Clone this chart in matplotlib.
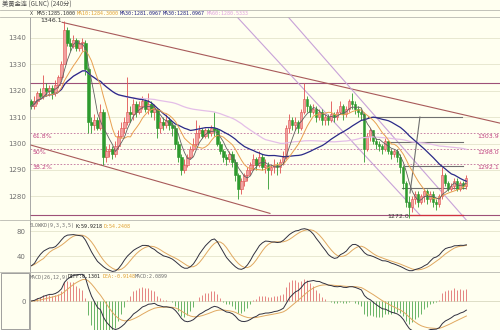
import numpy as np
import pandas as pd
import matplotlib
matplotlib.use('Agg')
import matplotlib.pyplot as plt
from matplotlib import font_manager

# ---------------- data (240-minute bars) ----------------
first_open = 1316
closes = [1314, 1316, 1319, 1318, 1321, 1320, 1321, 1319, 1322, 1325,
          1330, 1343, 1338, 1337, 1339, 1336, 1338, 1338, 1328, 1308,
          1307, 1309, 1306, 1312, 1295, 1297, 1298, 1296, 1299, 1303,
          1306, 1308, 1312, 1311, 1315, 1312, 1314, 1316, 1313, 1315,
          1312, 1313, 1306, 1308, 1307, 1309, 1307, 1306, 1300, 1295,
          1290, 1292, 1295, 1298, 1300, 1304, 1305, 1303, 1305, 1304,
          1306, 1305, 1300, 1297, 1295, 1294, 1296, 1293, 1288, 1283,
          1286, 1288, 1290, 1292, 1294, 1292, 1295, 1291, 1292, 1290,
          1291, 1292, 1291, 1293, 1295, 1306, 1309, 1307, 1308, 1306,
          1312, 1317, 1314, 1312, 1313, 1310, 1312, 1309, 1310, 1309,
          1311, 1310, 1312, 1314, 1311, 1313, 1316, 1315, 1313, 1312,
          1311, 1298, 1303, 1305, 1301, 1300, 1299, 1298, 1301, 1297,
          1296, 1297, 1295, 1291, 1285, 1278, 1276, 1279, 1281, 1278,
          1280, 1282, 1279, 1281, 1278, 1277, 1280, 1288, 1285, 1283,
          1284, 1286, 1283, 1285, 1284, 1287]
highs = [1317, 1318, 1320, 1321, 1326, 1323, 1322, 1322, 1324, 1326,
         1331, 1346.1, 1344, 1340, 1341, 1340, 1339, 1340, 1339, 1329,
         1310, 1311, 1310, 1315, 1313, 1299, 1300, 1299, 1301, 1305,
         1308, 1310, 1325, 1314, 1317, 1316, 1316, 1318, 1317, 1319,
         1316, 1315, 1313, 1310, 1310, 1311, 1310, 1308, 1307, 1301,
         1296, 1294, 1296, 1299, 1302, 1309, 1307, 1306, 1306, 1306,
         1307, 1312, 1306, 1301, 1298, 1296, 1297, 1297, 1294, 1289,
         1287, 1289, 1291, 1293, 1296, 1295, 1297, 1296, 1294, 1293,
         1292, 1294, 1293, 1294, 1297, 1307, 1311, 1310, 1310, 1309,
         1313, 1323, 1318, 1315, 1315, 1314, 1313, 1313, 1311, 1311,
         1316, 1312, 1313, 1316, 1315, 1314, 1317, 1319, 1316, 1314,
         1313, 1312, 1304, 1306, 1305, 1302, 1301, 1300, 1302, 1301,
         1298, 1298, 1298, 1296, 1292, 1286, 1280, 1280, 1282, 1282,
         1281, 1283, 1283, 1282, 1282, 1279, 1281, 1291, 1289, 1286,
         1285, 1287, 1287, 1286, 1286, 1288]
lows = [1313, 1313, 1315, 1317, 1317, 1318, 1318, 1317, 1318, 1321,
        1324, 1330, 1337, 1335, 1336, 1335, 1335, 1335, 1326, 1304,
        1304, 1305, 1305, 1305, 1292, 1293, 1295, 1294, 1295, 1298,
        1302, 1304, 1307, 1308, 1309, 1310, 1311, 1313, 1312, 1311,
        1310, 1309, 1302, 1304, 1305, 1306, 1305, 1303, 1298, 1293,
        1288, 1289, 1291, 1294, 1297, 1299, 1302, 1302, 1302, 1302,
        1303, 1303, 1299, 1296, 1293, 1292, 1293, 1291, 1286, 1279,
        1281, 1284, 1286, 1288, 1290, 1290, 1291, 1290, 1289, 1283,
        1288, 1289, 1288, 1289, 1292, 1294, 1304, 1305, 1305, 1304,
        1305, 1311, 1312, 1310, 1311, 1308, 1309, 1307, 1307, 1307,
        1308, 1308, 1309, 1311, 1309, 1310, 1312, 1313, 1311, 1310,
        1309, 1293, 1297, 1301, 1300, 1298, 1297, 1296, 1297, 1296,
        1294, 1295, 1293, 1289, 1283, 1276, 1272, 1274, 1277, 1276,
        1277, 1278, 1277, 1278, 1276, 1275, 1276, 1279, 1284, 1282,
        1282, 1283, 1282, 1282, 1283, 1283]

price_ticks = [1280, 1290, 1300, 1310, 1320, 1330, 1340]
fib_pcts = ['38.2%', '50%', '61.8%']
fib_prices = [1292.1, 1298.0, 1303.9]
hlines_full = [1323.0, 1273.0]
# drawn trend lines: (x0, y0, x1, y1) in bar index / price units
channel_lines = [(10.2, 1345.8, 156.2, 1307.7), (-0.5, 1299.5, 79.5, 1273.6)]
fan_lines = [(68.8, 1347.5, 129.5, 1273.0), (85.5, 1347.9, 146.2, 1269.5)]
measure_lines = [(112.2, 1310.0, 143.5, 1310.0), (118.5, 1300.4, 143.8, 1300.4),
                 (124.5, 1291.5, 143.8, 1291.5), (123.5, 1283.2, 144.5, 1283.2),
                 (126.2, 1281.3, 129.5, 1310.0)]
red_measure = (126.2, 1273.0, 143.8, 1273.0)

# ---------------- indicators ----------------
c = pd.Series(closes, dtype=float)
h = pd.Series(highs, dtype=float)
l = pd.Series(lows, dtype=float)
opens = [first_open] + closes[:-1]
n = len(closes)
x = np.arange(n)

ma = {p: c.rolling(p, min_periods=1).mean() for p in (5, 10, 30, 60)}

# SLOWKD(9,3,3,5)
llv = l.rolling(9, min_periods=1).min()
hhv = h.rolling(9, min_periods=1).max()
rsv = (c - llv) / (hhv - llv) * 100
k1 = rsv.ewm(alpha=1 / 3, adjust=False).mean()
k_slow = k1.ewm(alpha=1 / 3, adjust=False).mean()
d_slow = k_slow.rolling(5, min_periods=1).mean()

ema12 = c.ewm(span=12, adjust=False).mean()
ema26 = c.ewm(span=26, adjust=False).mean()
diff = ema12 - ema26
dea = diff.ewm(span=9, adjust=False).mean()
hist = 2 * (diff - dea)

# ---------------- fonts ----------------
_names = {f.name for f in font_manager.fontManager.ttflist}
if 'Liberation Sans Narrow' in _names:
    SMALL_FAMILY, FS = 'Liberation Sans Narrow', 4.6
else:
    SMALL_FAMILY, FS = 'DejaVu Sans Mono', 3.6

# ---------------- figure ----------------
BG = '#FFFFF0'
W, H = 500, 330
fig = plt.figure(figsize=(5, 3.3), dpi=100)
fig.patch.set_facecolor(BG)

def fy(py):
    return 1 - py / H

def fx(px):
    return px / W

XL = (-0.5, 156.2)
ax = fig.add_axes([fx(30), fy(220), fx(470), (220 - 17) / H])
axk = fig.add_axes([fx(30), fy(272), fx(470), (272 - 220) / H])
axm = fig.add_axes([fx(30), fy(330), fx(470), (330 - 272) / H])

for a in (ax, axk, axm):
    a.set_facecolor(BG)
    a.set_xlim(*XL)
    a.set_xticks([])
    for s in ('top', 'right', 'bottom'):
        a.spines[s].set_visible(False)
    a.spines['left'].set_color('#9A9A9A')
    a.spines['left'].set_linewidth(0.6)
    a.tick_params(axis='y', length=0, labelsize=5, labelcolor='#707070', pad=3)

# main panel
ax.set_ylim(1271.1, 1347.8)
ax.set_yticks(price_ticks)
for t in price_ticks:
    ax.axhline(t, color='#E4E4CC', lw=0.6, zorder=0)
for p in fib_prices:
    ax.axhline(p, color='#C0709A', lw=0.6, ls=(0, (2, 2)), zorder=1)
for p in hlines_full:
    ax.axhline(p, color='#9E5078', lw=0.8, zorder=1)
for (x0, y0, x1, y1) in channel_lines:
    ax.plot([x0, x1], [y0, y1], color='#A85A5A', lw=0.8, zorder=1)
for (x0, y0, x1, y1) in fan_lines:
    ax.plot([x0, x1], [y0, y1], color='#C8A2D8', lw=0.8, zorder=1)
for (x0, y0, x1, y1) in measure_lines:
    ax.plot([x0, x1], [y0, y1], color='#707070', lw=0.8, zorder=1)
ax.plot([red_measure[0], red_measure[2]], [red_measure[1], red_measure[3]],
        color='#D03040', lw=0.9, zorder=1)

up_c = '#E05050'
dn_c = '#2E9A2E'
for i in range(n):
    o, cl = opens[i], closes[i]
    col = up_c if cl >= o else dn_c
    ax.vlines(x[i], lows[i], highs[i], color=col, lw=0.6, zorder=3)
    bottom = min(o, cl)
    height = max(abs(cl - o), 0.25)
    ax.bar(x[i], height, bottom=bottom, width=0.7,
           color=('#F2A0A0' if cl >= o else dn_c), edgecolor=col, lw=0.4, zorder=4)

ax.plot(x, ma[60], color='#E4BEE8', lw=0.9, zorder=5)
ax.plot(x, ma[30], color='#2A2A88', lw=0.9, zorder=5)
ax.plot(x, ma[10], color='#E8A050', lw=0.7, zorder=5)
ax.plot(x, ma[5], color='#606060', lw=0.6, zorder=5)

ax.text(10.2, 1346.3, '1346.1', fontsize=4.5, color='#303030', ha='right', va='center')
ax.text(126.0, 1272.4, '1272.0', fontsize=4.5, color='#303030', ha='right', va='center')
for lab, p in zip(fib_pcts, fib_prices):
    ax.text(0.3, p - 0.4, lab, fontsize=4.5, color='#C04080', ha='left', va='top')
    ax.text(156.0, p - 0.4, f'{p:.1f}', fontsize=4.5, color='#C04080', ha='right', va='top')

# KDJ panel
axk.set_ylim(15, 98)
axk.set_yticks([40, 80])
for t in (40, 80):
    axk.axhline(t, color='#E4E4CC', lw=0.6, zorder=0)
axk.plot(x, d_slow, color='#E0A860', lw=0.7)
axk.plot(x, k_slow, color='#303040', lw=0.7)

# MACD panel
axm.set_ylim(-6.8, 6.8)
axm.set_yticks([0])
axm.axhline(0, color='#D8D8C0', lw=0.6, zorder=0)
axm.vlines(x, 0, hist, colors=np.where(hist >= 0, '#E07070', '#50A850'), lw=0.6)
axm.plot(x, dea, color='#E0A860', lw=0.7)
axm.plot(x, diff, color='#303040', lw=0.7)

# separators / frame
for py in (9.5, 17, 220, 272):
    fig.add_artist(plt.Line2D([0, 1], [fy(py), fy(py)], color='#B8B8B0', lw=0.6))
fig.add_artist(plt.Rectangle((fx(1), fy(329)), fx(28), (329 - 273) / H,
                             fill=False, edgecolor='#909090', lw=0.6))

# header texts
fig.text(fx(2), fy(5), '美黄金连 (GLNC) (240分)', fontsize=4.5, color='#505050',
         va='center', family=['Noto Sans CJK SC', 'DejaVu Sans'])
legend_parts = [(30, 'X', '#404040'), (37, 'MA5:1285.1000', '#303030'),
                (77, 'MA10:1284.3000', '#E0A030'), (120, 'MA30:1281.0967', '#202080'),
                (163, 'MA30:1281.0967', '#202080'), (207, 'MA60:1280.5333', '#E0A0E0')]
for px, s, col in legend_parts:
    fig.text(fx(px), fy(13.3), s, fontsize=FS, color=col, va='center', family=SMALL_FAMILY)
kd_parts = [(30, 'SLOWKD(9,3,3,5)', '#707070'), (76, 'K:59.9218', '#202020'),
            (104, 'D:54.2408', '#E0A030')]
for px, s, col in kd_parts:
    fig.text(fx(px), fy(226), s, fontsize=FS, color=col, va='center', family=SMALL_FAMILY)
macd_parts = [(30, 'MACD(26,12,9)', '#707070'), (68, 'DIFF:0.1301', '#202020'),
              (103, 'DEA:-0.9148', '#E0A030'), (135, 'MACD:2.0899', '#707070')]
for px, s, col in macd_parts:
    fig.text(fx(px), fy(277), s, fontsize=FS, color=col, va='center', family=SMALL_FAMILY)

fig.savefig('out.png', dpi=100, facecolor=BG)
